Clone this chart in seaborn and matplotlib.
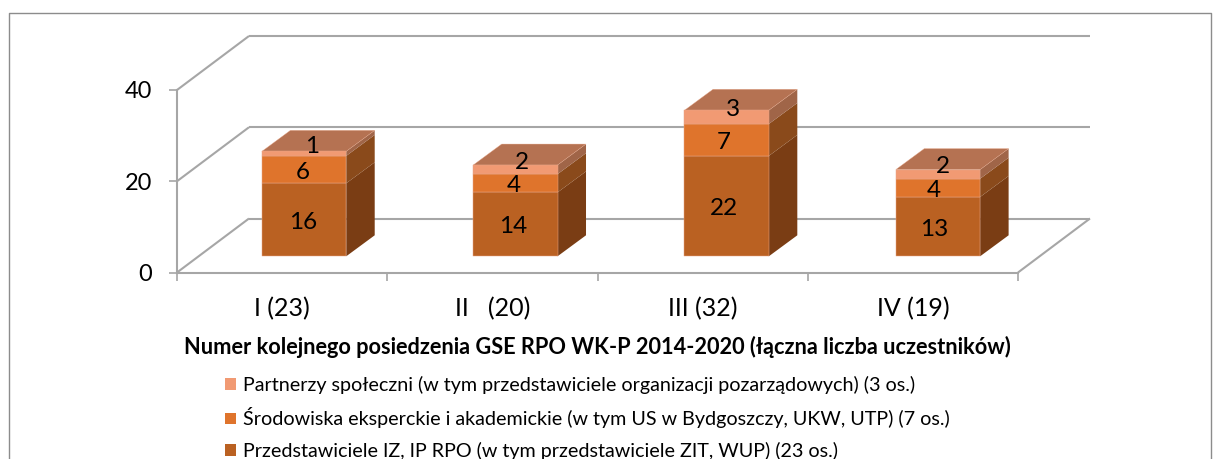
import numpy as np
import pandas as pd
import matplotlib
matplotlib.use("Agg")
import matplotlib.pyplot as plt
import seaborn as sns
from matplotlib.lines import Line2D
from matplotlib.patches import Patch, Polygon
from matplotlib.transforms import Affine2D, IdentityTransform

sessions = ["I (23)", "II   (20)", "III (32)", "IV (19)"]
iz_ip = [16, 14, 22, 13]
eksperci = [6, 4, 7, 4]
partnerzy = [1, 2, 3, 2]
series_names = [
    "Przedstawiciele IZ, IP RPO (w tym przedstawiciele ZIT, WUP) (23 os.)",
    "Środowiska eksperckie i akademickie (w tym US w Bydgoszczy, UKW, UTP) (7 os.)",
    "Partnerzy społeczni (w tym przedstawiciele organizacji pozarządowych) (3 os.)",
]
xlabel = "Numer kolejnego posiedzenia GSE RPO WK-P 2014-2020 (łączna liczba uczestników)"
yticks = [0, 20, 40]

front_colors = ["#BA6122", "#DF742C", "#F19A73"]
side_colors = ["#7A3D14", "#8A4A1B", "#A06548"]
top_color = "#B57252"
edge_color = "#E8A688"
grid_color = "#A6A6A6"

W, H = 1221, 459
sns.set_theme(style="white")
plt.rcParams["font.family"] = ["Lato", "DejaVu Sans"]
fig = plt.figure(figsize=(W / 100, H / 100), dpi=100, facecolor="white")
L, R, B, T = 177.0, 1018.0, 272.5, 90.0
ax = fig.add_axes([L / W, 1 - B / H, (R - L) / W, (B - T) / H])
ax.patch.set_alpha(0)

df = pd.DataFrame({"session": sessions, "a": iz_ip, "b": eksperci, "c": partnerzy})
stack = [np.array(iz_ip, float), np.array(eksperci, float), np.array(partnerzy, float)]
bottoms = [np.zeros(4), stack[0], stack[0] + stack[1]]
for col, vals, bot, color in zip("abc", stack, bottoms, front_colors):
    sns.barplot(data=df, x="session", y=col, bottom=bot, color=color, saturation=1,
                width=0.399, errorbar=None, ax=ax, zorder=5)

ax.set_xlim(-0.5, 3.5)
ax.set_ylim(0, 40)
ax.set_yticks(yticks)
ax.set_xticks(range(4), sessions)
ax.set_xticks(np.arange(-0.5, 4), minor=True)

# pseudo-3D shifts, in output pixels
depth_wall = Affine2D().translate(72, 54)
bar_trans = ax.transData + Affine2D().translate(-L, 0).scale(1.005, 1).translate(L + 21.4, 16.2)
label_trans = ax.transData + Affine2D().translate(22, 16.2)

# walls and floor
wall = ax.transData + depth_wall
grid_kw = dict(color=grid_color, lw=1.5, clip_on=False, zorder=1, solid_capstyle="butt")
for y in yticks:
    ax.plot([-0.5, 3.5], [y, y], transform=wall, **grid_kw)
    fx, fy = ax.transData.transform((-0.5, y))
    bx, by = wall.transform((-0.5, y))
    ax.plot([fx, bx], [fy, by], transform=IdentityTransform(), **grid_kw)
fx, fy = ax.transData.transform((3.5, 0))
bx, by = wall.transform((3.5, 0))
ax.plot([fx, bx], [fy, by], transform=IdentityTransform(), **grid_kw)

# bar front faces shifted, side and top faces derived from them
dx, dy = 28.5, 21
for container, side in zip(ax.containers, side_colors):
    for bar in container:
        bar.set_transform(bar_trans)
        bar.set_clip_on(False)
        bar.set_edgecolor(edge_color)
        bar.set_linewidth(0.35)
        x0, x1 = bar.get_x(), bar.get_x() + bar.get_width()
        y0, y1 = bar.get_y(), bar.get_y() + bar.get_height()
        (_, py0), (px1, py1) = bar_trans.transform([(x1, y0), (x1, y1)])
        ax.add_patch(Polygon([(px1, py0), (px1 + dx, py0 + dy), (px1 + dx, py1 + dy), (px1, py1)],
                             closed=True, facecolor=side, edgecolor="none",
                             transform=IdentityTransform(), clip_on=False, zorder=4))
for bar in ax.containers[-1]:
    x0, x1 = bar.get_x(), bar.get_x() + bar.get_width()
    y1 = bar.get_y() + bar.get_height()
    (px0, py), (px1, _) = bar_trans.transform([(x0, y1), (x1, y1)])
    ax.add_patch(Polygon([(px0, py), (px1, py), (px1 + dx, py + dy), (px0 + dx, py + dy)],
                         closed=True, facecolor=top_color, edgecolor=edge_color, linewidth=0.25,
                         transform=IdentityTransform(), clip_on=False, zorder=4))

# data labels
top_shift = label_trans + Affine2D().translate(8, 7.5)
for level, (vals, bot) in enumerate(zip(stack, bottoms)):
    tr = top_shift if level == 2 else label_trans + Affine2D().translate(-1, -2.5)
    for i, (v, b) in enumerate(zip(vals, bot)):
        ax.text(i, b + v / 2, f"{int(v)}", transform=tr, ha="center", va="center",
                fontsize=17.5, color="black", zorder=8, clip_on=False)

# axes styling
for s in ("top", "right"):
    ax.spines[s].set_visible(False)
for s in ("left", "bottom"):
    ax.spines[s].set_color(grid_color)
    ax.spines[s].set_linewidth(1.5)
    ax.spines[s].set_zorder(2)
ax.tick_params(axis="y", which="major", left=True, length=6, width=1.2, color=grid_color,
               labelsize=17, pad=12, labelcolor="black")
ax.tick_params(axis="x", which="major", bottom=False, labelsize=18, pad=11.7, labelcolor="black")
ax.tick_params(axis="x", which="minor", bottom=True, length=6, width=1.2, color=grid_color)
ax.set_ylabel("")
ax.set_xlabel(xlabel, fontsize=15.7, fontweight="bold", color="black", labelpad=11.3)

# legend, cut off by the lower image edge as in the source
handles = [Patch(facecolor=c, edgecolor="none") for c in front_colors[::-1]]
leg = ax.legend(handles, series_names[::-1], loc="upper left", frameon=False,
                bbox_to_anchor=(225 / W, 1 - 376 / H), bbox_transform=fig.transFigure,
                fontsize=14.2, labelspacing=0.68, handlelength=0.55, handleheight=0.55,
                handletextpad=0.36, borderpad=0, borderaxespad=0, labelcolor="black")

# outer chart frame, cut off at the lower edge
frame = [(8.5, 0), (8.5, H - 13), (1210.5, H - 13), (1210.5, 0)]
fig.add_artist(Line2D(*zip(*frame), color="#8C8C8C", lw=1.0, transform=IdentityTransform()))

fig.savefig("out.png", dpi=100, facecolor="white")
